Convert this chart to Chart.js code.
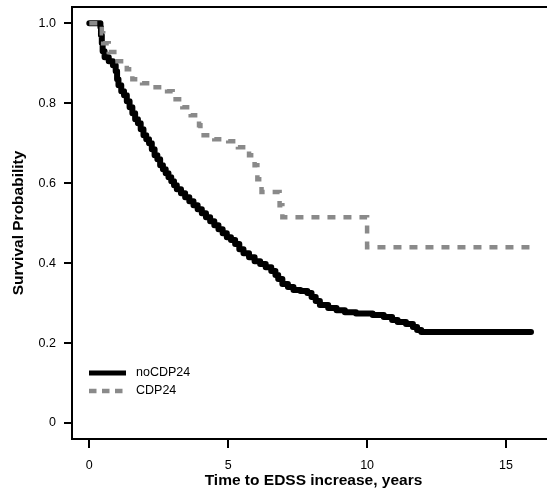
<!DOCTYPE html>
<html>
<head>
<meta charset="utf-8">
<script src="https://cdn.jsdelivr.net/npm/chart.js@4.4.1/dist/chart.umd.min.js"></script>
<style>
html, body { margin:0; padding:0; background:#fff; overflow:hidden; width:547px; height:491px; }
#wrap { width:555px; height:491px; }
canvas { display:block; }
</style>
</head>
<body>
<div id="wrap"><canvas id="c" width="555" height="491"></canvas></div>
<script>
// ---- Data (Kaplan-Meier step curves) ----
const seriesNames = ['noCDP24', 'CDP24'];

const noCdpTimes = [0, 0.4, 0.42, 0.45, 0.48, 0.55, 0.7, 0.85, 0.95, 1.0, 1.05, 1.15, 1.25, 1.35, 1.45, 1.55, 1.65, 1.75, 1.85, 1.95,
  2.05, 2.15, 2.25, 2.35, 2.45, 2.55, 2.65, 2.75, 2.85, 2.95, 3.05, 3.15, 3.3, 3.45, 3.6, 3.75, 3.9, 4.05, 4.2, 4.35,
  4.5, 4.65, 4.8, 4.95, 5.1, 5.25, 5.4, 5.55, 5.75, 5.95, 6.15, 6.35, 6.55, 6.7, 6.8, 6.95, 7.15, 7.35, 7.6, 7.85,
  8.0, 8.15, 8.3, 8.6, 8.9, 9.2, 9.6, 10.2, 10.6, 10.9, 11.1, 11.4, 11.65, 11.8, 11.95, 15.9];
const noCdpSurv = [1.0, 0.99, 0.97, 0.95, 0.93, 0.915, 0.905, 0.895, 0.88, 0.86, 0.845, 0.83, 0.82, 0.805, 0.79, 0.775, 0.76, 0.75, 0.735, 0.72,
  0.71, 0.70, 0.685, 0.67, 0.66, 0.645, 0.635, 0.625, 0.615, 0.605, 0.595, 0.585, 0.575, 0.565, 0.555, 0.545, 0.535, 0.525, 0.515, 0.505,
  0.495, 0.485, 0.475, 0.465, 0.458, 0.448, 0.435, 0.425, 0.415, 0.405, 0.398, 0.39, 0.38, 0.37, 0.36, 0.348, 0.34, 0.333, 0.33, 0.325,
  0.315, 0.305, 0.295, 0.288, 0.282, 0.277, 0.274, 0.27, 0.265, 0.258, 0.253, 0.248, 0.24, 0.233, 0.228, 0.228];

const cdpTimes = [0, 0.45, 0.5, 0.7, 0.9, 1.35, 1.55, 1.9, 2.2, 2.8, 3.0, 3.35, 3.65, 3.95, 4.0, 4.5, 5.0, 5.35, 5.75, 5.95, 6.05, 6.2, 6.85, 6.95, 10.0, 15.9];
const cdpSurv  = [1.0, 0.975, 0.95, 0.928, 0.905, 0.885, 0.86, 0.85, 0.84, 0.83, 0.81, 0.79, 0.77, 0.745, 0.72, 0.71, 0.705, 0.69, 0.67, 0.645, 0.61, 0.578, 0.545, 0.515, 0.44, 0.44];

const xTickValues = [0, 5, 10, 15];
const xTickLabels = ['0', '5', '10', '15'];
const yTickValues = [0, 0.2, 0.4, 0.6, 0.8, 1.0];
const yTickLabels = ['0', '0.2', '0.4', '0.6', '0.8', '1.0'];
const xTitle = 'Time to EDSS increase, years';
const yTitle = 'Survival Probability';

// ---- build ----
const toPts = (ts, ss) => ts.map((t, i) => ({x: t, y: ss[i]}));
const FONT = "'Liberation Sans', Arial, sans-serif";
const GRAY = '#8a8a8a';

const frame = {
  id: 'frame',
  afterDraw(chart) {
    const {ctx, chartArea: a} = chart;
    ctx.save();
    ctx.strokeStyle = '#000';
    ctx.lineWidth = 2;
    ctx.beginPath();
    ctx.moveTo(a.left - 1, a.top);
    ctx.lineTo(a.right + 2, a.top);
    ctx.stroke();
    ctx.restore();
  }
};

const legendInside = {
  id: 'legendInside',
  afterDatasetsDraw(chart) {
    const {ctx, chartArea: a} = chart;
    const x0 = a.left + 17, x1 = a.left + 54, tx = a.left + 64;
    const y0 = a.bottom - 66, y1 = a.bottom - 48;
    ctx.save();
    ctx.lineCap = 'butt';
    ctx.strokeStyle = '#000';
    ctx.lineWidth = 5;
    ctx.beginPath(); ctx.moveTo(x0, y0); ctx.lineTo(x1, y0); ctx.stroke();
    ctx.strokeStyle = GRAY;
    ctx.lineWidth = 4.5;
    ctx.setLineDash([7.5, 5.5]);
    ctx.beginPath(); ctx.moveTo(x0, y1); ctx.lineTo(x1, y1); ctx.stroke();
    ctx.setLineDash([]);
    ctx.fillStyle = '#000';
    ctx.font = '12.5px ' + FONT;
    ctx.textBaseline = 'middle';
    ctx.textAlign = 'left';
    ctx.fillText(seriesNames[0], tx, y0);
    ctx.fillText(seriesNames[1], tx, y1);
    ctx.restore();
  }
};

new Chart(document.getElementById('c'), {
  type: 'line',
  data: {
    datasets: [
      {
        label: seriesNames[1],
        data: toPts(cdpTimes, cdpSurv),
        borderColor: GRAY,
        borderWidth: 4.5,
        borderDash: [8, 8],
        borderCapStyle: 'butt',
        stepped: true,
        pointRadius: 0,
        fill: false,
        order: 0
      },
      {
        label: seriesNames[0],
        data: toPts(noCdpTimes, noCdpSurv),
        borderColor: '#000',
        borderWidth: 6,
        borderCapStyle: 'round',
        borderJoinStyle: 'round',
        stepped: true,
        pointRadius: 0,
        fill: false,
        order: 1
      }
    ]
  },
  options: {
    responsive: false,
    animation: false,
    devicePixelRatio: 1,
    layout: { padding: { left: 0, right: 0, top: 7, bottom: 0 } },
    plugins: { legend: { display: false }, tooltip: { enabled: false } },
    scales: {
      x: {
        type: 'linear',
        min: -0.623,
        max: 16.764,
        afterFit(s) { s.height = 52; s.paddingLeft = 0; s.paddingRight = 0; },
        afterBuildTicks(s) { s.ticks = xTickValues.map(v => ({value: v})); },
        border: { display: true, color: '#000', width: 2 },
        grid: { display: true, drawOnChartArea: false, drawTicks: true, tickLength: 9, color: '#000', lineWidth: 2 },
        ticks: {
          autoSkip: false, maxRotation: 0, padding: 10, color: '#000',
          font: { family: FONT, size: 12.5 },
          callback: (v, i) => xTickLabels[i]
        },
        title: { display: true, text: xTitle, color: '#000', font: { family: FONT, size: 15.5, weight: 'bold' }, padding: { top: 0, bottom: 1 } }
      },
      y: {
        type: 'linear',
        min: -0.04,
        max: 1.0408,
        afterFit(s) { s.width = 72; s.paddingTop = 0; s.paddingBottom = 0; },
        afterBuildTicks(s) { s.ticks = yTickValues.map(v => ({value: v})); },
        border: { display: true, color: '#000', width: 2 },
        grid: { display: true, drawOnChartArea: false, drawTicks: true, tickLength: 8, color: '#000', lineWidth: 2 },
        ticks: {
          autoSkip: false, padding: 8, color: '#000',
          font: { family: FONT, size: 12.5 },
          callback: (v, i) => yTickLabels[i]
        },
        title: { display: true, text: yTitle, color: '#000', font: { family: FONT, size: 15.5, weight: 'bold' }, padding: { top: 9, bottom: 0 } }
      }
    }
  },
  plugins: [frame, legendInside]
});
</script>
</body>
</html>
